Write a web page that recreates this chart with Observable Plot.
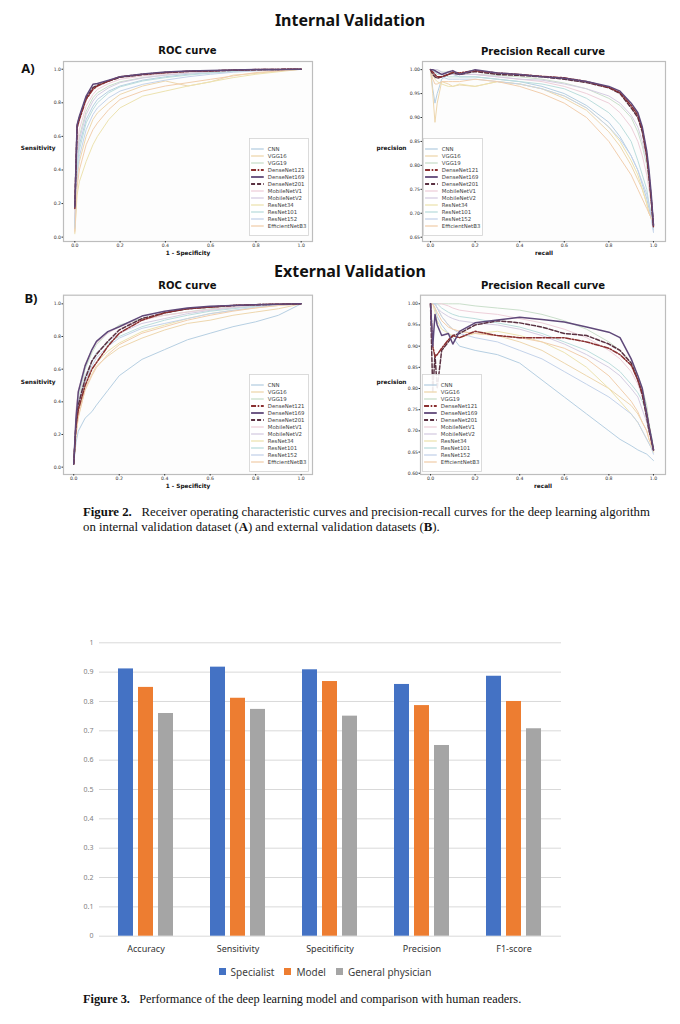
<!DOCTYPE html>
<html>
<head>
<meta charset="utf-8">
<script src="https://cdn.jsdelivr.net/npm/d3@7"></script>
<script src="https://cdn.jsdelivr.net/npm/@observablehq/plot@0.6"></script>
<style>
  body { margin: 0; background: #fff; }
  #page { position: relative; width: 680px; height: 1024px; overflow: hidden; background: #fff; }
  .c { position: absolute; transform: translate(-50%, -50%); white-space: nowrap; }
  .big { font-family: "Noto Sans", sans-serif; font-weight: 700; font-size: 16px; color: #111; }
  .tag { font-family: "Noto Sans", sans-serif; font-weight: 700; font-size: 13px; color: #111; }
  .sub { font-family: "DejaVu Sans", sans-serif; font-weight: 700; font-size: 10px; color: #111; }
  .cap { position: absolute; font-family: "Liberation Serif", serif; line-height: 15px; color: #111; white-space: nowrap; }
</style>
</head>
<body>
<div id="page"></div>
<script>
// ---------------- Figure 2 data ----------------
const models = ["CNN","VGG16","VGG19","DenseNet121","DenseNet169","DenseNet201","MobileNetV1","MobileNetV2","ResNet34","ResNet101","ResNet152","EfficientNetB3"];

// ROC curves: false positive rate grid and sensitivity per model (order = models)
const rocFpr = [0, 0.01, 0.02, 0.05, 0.08, 0.1, 0.15, 0.2, 0.3, 0.4, 0.5, 0.6, 0.7, 0.8, 0.9, 1.0];
const rocInternalTpr = [
  [0.06, 0.45, 0.55, 0.70, 0.78, 0.82, 0.87, 0.90, 0.935, 0.955, 0.97, 0.98, 0.988, 0.994, 0.998, 1],
  [0.04, 0.35, 0.45, 0.60, 0.70, 0.74, 0.80, 0.85, 0.90, 0.93, 0.90, 0.925, 0.965, 0.975, 0.99, 1],
  [0.08, 0.50, 0.60, 0.75, 0.83, 0.86, 0.90, 0.925, 0.95, 0.965, 0.977, 0.985, 0.99, 0.995, 0.998, 1],
  [0.17, 0.65, 0.70, 0.82, 0.88, 0.90, 0.93, 0.955, 0.97, 0.98, 0.988, 0.99, 0.995, 0.998, 0.999, 1],
  [0.18, 0.67, 0.72, 0.84, 0.91, 0.915, 0.935, 0.955, 0.972, 0.983, 0.99, 0.993, 0.996, 0.998, 0.999, 1],
  [0.19, 0.66, 0.71, 0.83, 0.89, 0.905, 0.93, 0.952, 0.968, 0.98, 0.987, 0.99, 0.994, 0.997, 0.999, 1],
  [0.10, 0.55, 0.64, 0.78, 0.85, 0.88, 0.915, 0.94, 0.96, 0.972, 0.982, 0.988, 0.993, 0.997, 0.999, 1],
  [0.07, 0.48, 0.58, 0.73, 0.81, 0.845, 0.89, 0.92, 0.948, 0.965, 0.976, 0.985, 0.99, 0.995, 0.998, 1],
  [0.02, 0.25, 0.33, 0.45, 0.55, 0.60, 0.70, 0.77, 0.84, 0.87, 0.90, 0.925, 0.95, 0.97, 0.985, 1],
  [0.06, 0.42, 0.52, 0.68, 0.76, 0.80, 0.86, 0.895, 0.93, 0.95, 0.965, 0.977, 0.986, 0.993, 0.997, 1],
  [0.05, 0.38, 0.48, 0.64, 0.73, 0.77, 0.83, 0.87, 0.91, 0.935, 0.955, 0.97, 0.982, 0.99, 0.996, 1],
  [0.03, 0.30, 0.40, 0.55, 0.64, 0.68, 0.76, 0.82, 0.87, 0.90, 0.92, 0.94, 0.96, 0.98, 0.99, 1]
];
const rocExternalTpr = [
  [0.02, 0.15, 0.22, 0.30, 0.34, 0.38, 0.47, 0.56, 0.66, 0.72, 0.78, 0.82, 0.86, 0.89, 0.93, 1],
  [0.02, 0.20, 0.30, 0.48, 0.57, 0.62, 0.68, 0.73, 0.79, 0.84, 0.88, 0.90, 0.93, 0.95, 0.97, 1],
  [0.03, 0.30, 0.42, 0.60, 0.70, 0.75, 0.82, 0.87, 0.91, 0.93, 0.95, 0.97, 0.98, 0.99, 0.995, 1],
  [0.02, 0.25, 0.35, 0.50, 0.60, 0.64, 0.74, 0.82, 0.90, 0.945, 0.97, 0.98, 0.99, 0.995, 0.998, 1],
  [0.02, 0.30, 0.46, 0.62, 0.72, 0.77, 0.83, 0.86, 0.925, 0.955, 0.975, 0.985, 0.99, 0.995, 0.998, 1],
  [0.02, 0.27, 0.38, 0.54, 0.65, 0.69, 0.77, 0.84, 0.91, 0.945, 0.97, 0.98, 0.99, 0.995, 0.998, 1],
  [0.04, 0.35, 0.47, 0.63, 0.72, 0.76, 0.82, 0.86, 0.90, 0.93, 0.95, 0.965, 0.98, 0.99, 0.995, 1],
  [0.03, 0.28, 0.40, 0.56, 0.65, 0.70, 0.77, 0.82, 0.88, 0.91, 0.94, 0.96, 0.975, 0.985, 0.995, 1],
  [0.02, 0.22, 0.33, 0.50, 0.60, 0.64, 0.71, 0.76, 0.83, 0.87, 0.91, 0.94, 0.96, 0.975, 0.99, 1],
  [0.03, 0.26, 0.38, 0.55, 0.65, 0.70, 0.76, 0.80, 0.86, 0.90, 0.93, 0.955, 0.97, 0.985, 0.995, 1],
  [0.02, 0.24, 0.36, 0.52, 0.62, 0.67, 0.74, 0.79, 0.85, 0.88, 0.91, 0.94, 0.96, 0.98, 0.99, 1],
  [0.02, 0.20, 0.31, 0.47, 0.56, 0.61, 0.69, 0.75, 0.82, 0.86, 0.90, 0.93, 0.955, 0.975, 0.99, 1]
];

// Precision-recall curves: recall grid and precision per model (order = models)
const prRecall = [0, 0.01, 0.02, 0.03, 0.05, 0.08, 0.1, 0.13, 0.2, 0.3, 0.4, 0.5, 0.6, 0.7, 0.8, 0.85, 0.9, 0.93, 0.95, 0.97, 0.98, 0.99, 1.0];
const prInternalPrecision = [
  [1, 0.96, 0.93, 0.95, 0.98, 0.99, 0.99, 0.985, 0.985, 0.98, 0.975, 0.965, 0.95, 0.925, 0.89, 0.86, 0.82, 0.79, 0.76, 0.73, 0.71, 0.69, 0.665],
  [1, 0.95, 0.89, 0.93, 0.975, 0.97, 0.965, 0.968, 0.965, 0.975, 0.97, 0.96, 0.94, 0.915, 0.87, 0.84, 0.80, 0.77, 0.75, 0.72, 0.70, 0.69, 0.68],
  [1, 1, 1, 1, 0.995, 0.995, 0.993, 0.99, 0.99, 0.988, 0.985, 0.98, 0.972, 0.96, 0.94, 0.925, 0.90, 0.87, 0.84, 0.80, 0.76, 0.72, 0.68],
  [1, 0.995, 0.99, 0.985, 0.985, 0.99, 0.995, 0.993, 0.998, 0.993, 0.99, 0.986, 0.983, 0.975, 0.963, 0.952, 0.925, 0.905, 0.875, 0.82, 0.78, 0.73, 0.67],
  [1, 1, 0.998, 0.995, 0.99, 0.995, 0.998, 0.99, 1.0, 0.993, 0.99, 0.985, 0.982, 0.975, 0.965, 0.955, 0.93, 0.91, 0.88, 0.83, 0.79, 0.74, 0.675],
  [1, 0.99, 0.985, 0.982, 0.985, 0.99, 0.993, 0.99, 0.996, 0.99, 0.988, 0.985, 0.98, 0.973, 0.962, 0.95, 0.92, 0.90, 0.87, 0.82, 0.775, 0.73, 0.675],
  [1, 1, 1, 0.995, 0.99, 0.99, 0.99, 0.99, 0.99, 0.985, 0.98, 0.975, 0.965, 0.95, 0.93, 0.91, 0.88, 0.85, 0.82, 0.78, 0.75, 0.72, 0.68],
  [1, 1, 1, 1, 0.995, 0.99, 0.99, 0.99, 0.99, 0.985, 0.98, 0.978, 0.97, 0.96, 0.945, 0.93, 0.905, 0.88, 0.85, 0.81, 0.77, 0.73, 0.675],
  [1, 0.99, 0.98, 0.975, 0.97, 0.965, 0.965, 0.97, 0.965, 0.975, 0.97, 0.96, 0.945, 0.92, 0.88, 0.85, 0.81, 0.78, 0.75, 0.72, 0.70, 0.69, 0.68],
  [1, 1, 0.995, 0.99, 0.99, 0.985, 0.985, 0.985, 0.985, 0.98, 0.975, 0.97, 0.96, 0.94, 0.91, 0.885, 0.85, 0.81, 0.78, 0.75, 0.72, 0.70, 0.67],
  [1, 1, 0.99, 0.985, 0.985, 0.98, 0.98, 0.98, 0.98, 0.975, 0.97, 0.96, 0.945, 0.92, 0.88, 0.855, 0.82, 0.79, 0.765, 0.74, 0.72, 0.69, 0.66],
  [1, 0.98, 0.97, 0.97, 0.975, 0.975, 0.975, 0.975, 0.98, 0.975, 0.965, 0.95, 0.93, 0.90, 0.85, 0.815, 0.78, 0.75, 0.73, 0.71, 0.70, 0.69, 0.68]
];
const prExternalPrecision = [
  [1, 1, 0.99, 0.97, 0.95, 0.93, 0.92, 0.90, 0.89, 0.88, 0.86, 0.82, 0.78, 0.74, 0.70, 0.68, 0.665, 0.655, 0.65, 0.645, 0.64, 0.635, 0.63],
  [1, 1, 1, 0.99, 0.97, 0.95, 0.94, 0.935, 0.93, 0.925, 0.91, 0.89, 0.86, 0.83, 0.80, 0.78, 0.76, 0.74, 0.72, 0.70, 0.68, 0.665, 0.65],
  [1, 1, 1, 1, 1, 1, 1, 1, 0.995, 0.99, 0.985, 0.975, 0.96, 0.94, 0.91, 0.89, 0.86, 0.83, 0.80, 0.76, 0.72, 0.69, 0.66],
  [1, 0.90, 0.875, 0.88, 0.895, 0.915, 0.925, 0.92, 0.935, 0.925, 0.92, 0.92, 0.92, 0.91, 0.895, 0.88, 0.855, 0.82, 0.79, 0.74, 0.71, 0.68, 0.655],
  [1, 0.90, 0.975, 0.95, 0.925, 0.93, 0.905, 0.935, 0.955, 0.962, 0.968, 0.963, 0.957, 0.945, 0.933, 0.92, 0.87, 0.83, 0.80, 0.74, 0.71, 0.685, 0.655],
  [1, 0.79, 0.88, 0.80, 0.89, 0.91, 0.925, 0.93, 0.95, 0.96, 0.955, 0.945, 0.93, 0.925, 0.905, 0.89, 0.86, 0.82, 0.785, 0.73, 0.70, 0.68, 0.655],
  [1, 1, 1, 1, 1, 0.995, 0.99, 0.985, 0.98, 0.975, 0.965, 0.955, 0.94, 0.92, 0.89, 0.87, 0.84, 0.81, 0.78, 0.74, 0.71, 0.68, 0.655],
  [1, 1, 1, 0.99, 0.98, 0.97, 0.965, 0.96, 0.955, 0.95, 0.94, 0.925, 0.905, 0.88, 0.85, 0.83, 0.80, 0.78, 0.75, 0.72, 0.70, 0.68, 0.66],
  [1, 1, 0.98, 0.96, 0.94, 0.93, 0.925, 0.92, 0.93, 0.935, 0.925, 0.91, 0.885, 0.85, 0.80, 0.77, 0.74, 0.72, 0.70, 0.68, 0.67, 0.66, 0.65],
  [1, 1, 1, 1, 0.99, 0.98, 0.975, 0.97, 0.965, 0.955, 0.945, 0.93, 0.91, 0.89, 0.86, 0.84, 0.81, 0.79, 0.77, 0.74, 0.71, 0.69, 0.66],
  [1, 1, 1, 0.99, 0.97, 0.95, 0.94, 0.93, 0.92, 0.91, 0.89, 0.87, 0.84, 0.81, 0.78, 0.76, 0.74, 0.72, 0.70, 0.68, 0.67, 0.66, 0.645],
  [1, 1, 0.99, 0.98, 0.96, 0.945, 0.94, 0.935, 0.93, 0.925, 0.92, 0.91, 0.895, 0.87, 0.83, 0.80, 0.77, 0.745, 0.72, 0.70, 0.68, 0.67, 0.66]
];
const unitTicks = [0, 0.2, 0.4, 0.6, 0.8, 1.0];
const prInternalTicks = [0.65, 0.70, 0.75, 0.80, 0.85, 0.90, 0.95, 1.00];
const prExternalTicks = [0.60, 0.65, 0.70, 0.75, 0.80, 0.85, 0.90, 0.95, 1.00];

// ---------------- Figure 3 data ----------------
const metrics = ["Accuracy", "Sensitivity", "Specitificity", "Precision", "F1-score"];
const readers = ["Specialist", "Model", "General physician"];
const specialistScores = [0.911, 0.917, 0.908, 0.858, 0.886];
const modelScores = [0.848, 0.811, 0.868, 0.786, 0.800];
const physicianScores = [0.759, 0.773, 0.750, 0.650, 0.707];
const barTicks = [0, 0.1, 0.2, 0.3, 0.4, 0.5, 0.6, 0.7, 0.8, 0.9, 1];

// ---------------- styles ----------------
const lineColors = ["#b6cfe2", "#eed7ae", "#cadfcb", "#8a2f30", "#5f4879", "#5a3142",
                    "#eed0da", "#d5cde2", "#ede3b0", "#bcdedd", "#c4d3ea", "#f2cfae"];
const lineWidths = [1, 1, 1, 1.5, 1.5, 1.5, 1, 1, 1, 1, 1, 1];
const lineDashes = [null, null, null, "5,1.6,1.6,1.6", null, "4,2", null, null, null, null, null, null];
const drawOrder = [0, 1, 2, 6, 7, 8, 9, 10, 11, 5, 3, 4];
const barColors = ["#4472C4", "#ED7D31", "#A5A5A5"];

const page = document.getElementById("page");
function place(node, left, top) {
  node.style.position = "absolute";
  node.style.left = left + "px";
  node.style.top = top + "px";
  page.appendChild(node);
  return node;
}
function label(text, cls, cx, cy) {
  const d = document.createElement("div");
  d.className = "c " + cls;
  d.textContent = text;
  d.style.left = cx + "px";
  d.style.top = cy + "px";
  page.appendChild(d);
}

function linePanel(o) {
  const rows = models.flatMap((m, i) => o.xs.map((x, j) => ({model: m, x, y: o.ys[i][j]})));
  const marks = [Plot.frame({fill: "#fdfdfd", stroke: null})];
  for (const i of drawOrder) {
    marks.push(Plot.line(rows.filter(d => d.model === models[i]), {
      x: "x", y: "y", stroke: lineColors[i], strokeWidth: lineWidths[i],
      strokeDasharray: lineDashes[i] ?? undefined
    }));
  }
  marks.push(
    Plot.frame({stroke: "#bdbdbd", strokeWidth: 1.2}),
    Plot.axisX({ticks: unitTicks, tickFormat: d3.format(".1f"), tickSize: 1.5, tickPadding: 0.8, fontSize: 4.6, label: null}),
    Plot.axisY({ticks: o.yTicks, tickFormat: d3.format(o.yFmt), tickSize: 1.5, tickPadding: 1, fontSize: 4.6, label: null}),
    Plot.text([o.yLabel], {text: d => d, frameAnchor: "left", dx: o.yLabelDx, dy: -3, textAnchor: "end",
      fontWeight: "bold", fontSize: 5.8, fill: "#111"}),
    Plot.text([o.xLabel], {text: d => d, frameAnchor: "bottom", dy: 12, lineAnchor: "middle",
      fontWeight: "bold", fontSize: 5.8, fill: "#111"})
  );
  const chart = Plot.plot({
    width: 340, height: 220,
    marginLeft: o.ml, marginRight: o.mr, marginTop: o.mt, marginBottom: o.mb,
    x: {domain: o.xDomain},
    y: {domain: o.yDomain},
    style: {fontFamily: "DejaVu Sans, sans-serif", color: "#333", background: "transparent"},
    marks
  });
  place(chart, o.left, o.top);

  // legend (line samples + names) drawn with Plot on a band scale of model names
  const lmarks = [Plot.frame({fill: "#ffffff", fillOpacity: 0.9, stroke: "#d3d3d3", strokeWidth: 0.8})];
  models.forEach((m, i) => {
    lmarks.push(Plot.ruleY([m], {y: d => d, x1: 0.035, x2: 0.25, stroke: lineColors[i],
      strokeWidth: lineWidths[i] + 0.3, strokeDasharray: lineDashes[i] ?? undefined}));
  });
  lmarks.push(Plot.text(models, {y: d => d, x: 0.31, text: d => d, textAnchor: "start", fontSize: 5.4, fill: "#444"}));
  const legend = Plot.plot({
    width: 59, height: 97, margin: 0,
    x: {domain: [0, 1], axis: null},
    y: {type: "band", domain: models, padding: 0, axis: null, range: [1, 96]},
    style: {fontFamily: "DejaVu Sans, sans-serif", background: "transparent", overflow: "visible"},
    marks: lmarks
  });
  place(legend, o.legendLeft, o.legendTop);
}

// ---------------- Figure 2 layout ----------------
label("Internal Validation", "big", 350, 20);
label("A)", "tag", 28, 68);
label("ROC curve", "sub", 187.5, 50);
label("Precision Recall curve", "sub", 543, 51);

linePanel({left: 0, top: 40, ml: 63, mr: 28, mt: 21, mb: 19,
  xs: rocFpr, ys: rocInternalTpr, xDomain: [-0.05, 1.05], yDomain: [-0.026, 1.046],
  yTicks: unitTicks, yFmt: ".1f", xLabel: "1 - Specificity", yLabel: "Sensitivity", yLabelDx: -8,
  legendLeft: 249, legendTop: 138});
linePanel({left: 340, top: 40, ml: 82, mr: 15, mt: 21, mb: 19,
  xs: prRecall, ys: prInternalPrecision, xDomain: [-0.036, 1.054], yDomain: [0.641, 1.017],
  yTicks: prInternalTicks, yFmt: ".2f", xLabel: "recall", yLabel: "precision", yLabelDx: -16,
  legendLeft: 423, legendTop: 138});

label("External Validation", "big", 350, 271);
label("B)", "tag", 31, 298);
label("ROC curve", "sub", 187.5, 285);
label("Precision Recall curve", "sub", 543, 285);

linePanel({left: 0, top: 275, ml: 63, mr: 28, mt: 19.7, mb: 21,
  xs: rocFpr, ys: rocExternalTpr, xDomain: [-0.045, 1.05], yDomain: [-0.045, 1.053],
  yTicks: unitTicks, yFmt: ".1f", xLabel: "1 - Specificity", yLabel: "Sensitivity", yLabelDx: -8,
  legendLeft: 249, legendTop: 374});
linePanel({left: 340, top: 275, ml: 80, mr: 15, mt: 19.7, mb: 21,
  xs: prRecall, ys: prExternalPrecision, xDomain: [-0.045, 1.054], yDomain: [0.597, 1.0203],
  yTicks: prExternalTicks, yFmt: ".2f", xLabel: "recall", yLabel: "precision", yLabelDx: -14,
  legendLeft: 422, legendTop: 374});

const cap2 = document.createElement("div");
cap2.className = "cap";
cap2.style.fontSize = "12.8px";
cap2.innerHTML = "<b>Figure 2.</b>&nbsp;&nbsp; Receiver operating characteristic curves and precision-recall curves for the deep learning algorithm<br>on internal validation dataset (<b>A</b>) and external validation datasets (<b>B</b>).";
place(cap2, 83, 505);

// ---------------- Figure 3 ----------------
const barRows = metrics.flatMap((m, i) => [
  {metric: m, reader: readers[0], value: specialistScores[i]},
  {metric: m, reader: readers[1], value: modelScores[i]},
  {metric: m, reader: readers[2], value: physicianScores[i]}
]);
const barDims = {width: 500, height: 330, marginLeft: 19, marginRight: 19, marginTop: 12.3, marginBottom: 24.3};

const barBase = Plot.plot({
  ...barDims,
  y: {domain: [0, 1]},
  style: {fontFamily: "Noto Sans, sans-serif", background: "transparent"},
  marks: [
    Plot.gridY({ticks: barTicks, stroke: "#d9d9d9", strokeOpacity: 1}),
    Plot.axisY({ticks: barTicks, tickSize: 0, tickPadding: 6, fontSize: 7, fill: "#808080",
      tickFormat: d => String(+d.toFixed(1)), label: null})
  ]
});
place(barBase, 80, 630);

const barChart = Plot.plot({
  ...barDims,
  fx: {domain: metrics, paddingInner: 0.38, paddingOuter: 0.19, label: null},
  x: {domain: readers, paddingInner: 0.24, paddingOuter: 0, axis: null},
  y: {domain: [0, 1], axis: null},
  color: {domain: readers, range: barColors},
  style: {fontFamily: "Noto Sans, sans-serif", background: "transparent"},
  marks: [
    Plot.barY(barRows, {fx: "metric", x: "reader", y: "value", fill: "reader"}),
    Plot.axisFx({anchor: "bottom", tickSize: 0, tickPadding: 9, fontSize: 9, fill: "#333", label: null})
  ]
});
place(barChart, 80, 630);

const barLegend = Plot.legend({
  color: {type: "ordinal", domain: readers, range: barColors},
  swatchSize: 7,
  style: {fontFamily: "Noto Sans, sans-serif", fontSize: "10px", color: "#404040"}
});
const legWrap = document.createElement("div");
legWrap.style.width = "660px";
legWrap.style.display = "flex";
legWrap.style.justifyContent = "center";
legWrap.appendChild(barLegend);
place(legWrap, 0, 955);

const cap3 = document.createElement("div");
cap3.className = "cap";
cap3.style.fontSize = "12.3px";
cap3.innerHTML = "<b>Figure 3.</b>&nbsp;&nbsp; Performance of the deep learning model and comparison with human readers.";
place(cap3, 83, 992);
</script>
</body>
</html>
